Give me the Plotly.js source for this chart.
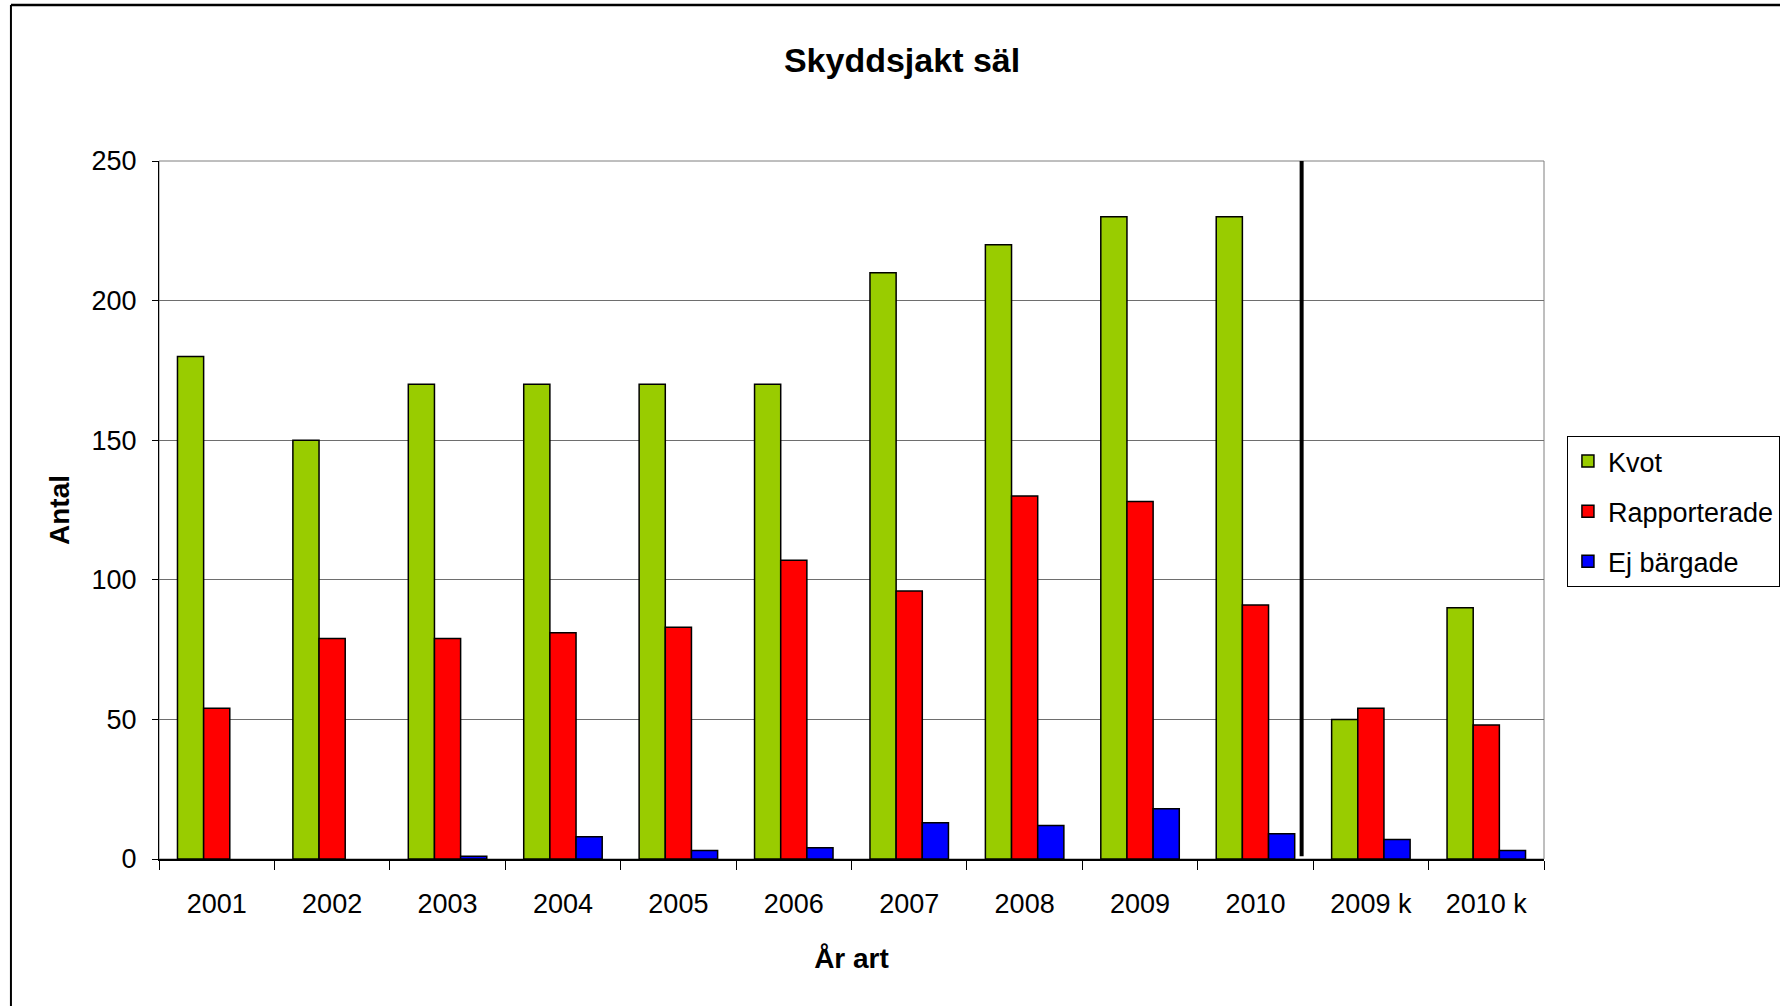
<!DOCTYPE html>
<html>
<head>
<meta charset="utf-8">
<script src="https://cdn.plot.ly/plotly-3.0.1.min.js"></script>
<style>
html, body { margin: 0; padding: 0; background: #fff; }
#chart { width: 1780px; height: 1006px; }
</style>
</head>
<body>
<div id="chart"></div>
<script>
const categories = ['2001', '2002', '2003', '2004', '2005', '2006', '2007', '2008', '2009', '2010', '2009 k', '2010 k'];
const kvot = [180, 150, 170, 170, 170, 170, 210, 220, 230, 230, 50, 90];
const rapporterade = [54, 79, 79, 81, 83, 107, 96, 130, 128, 91, 54, 48];
const ejBargade = [null, null, 1, 8, 3, 4, 13, 12, 18, 9, 7, 3];
const yTicks = [0, 50, 100, 150, 200, 250];

const FONT = '"Liberation Sans", Arial, sans-serif';
const outline = { color: '#000000', width: 1.5 };

const traces = [
  { type: 'bar', name: 'Kvot', x: categories, y: kvot, legendgroup: 'a',
    marker: { color: '#99CC00', line: outline } },
  { type: 'bar', name: 'Rapporterade', x: categories, y: rapporterade, legendgroup: 'b',
    marker: { color: '#FF0000', line: outline } },
  { type: 'bar', name: 'Ej bärgade', x: categories, y: ejBargade, legendgroup: 'c',
    marker: { color: '#0000FF', line: outline } }
];

// divider just before the first "k" category
const splitIdx = categories.indexOf('2009 k') - 0.6;

const layout = {
  width: 1780, height: 1006,
  paper_bgcolor: '#ffffff', plot_bgcolor: '#ffffff',
  margin: { l: 159, r: 236, t: 161, b: 147, pad: 0 },
  font: { family: FONT, color: '#000000', size: 27 },
  showlegend: true,
  barmode: 'group', bargap: 0.32, bargroupgap: 0,
  title: { text: '<b>Skyddsjakt säl</b>', font: { family: FONT, size: 34, color: '#000' },
           xref: 'paper', x: 0.5365, xanchor: 'center', yref: 'container', y: 0.94, yanchor: 'middle' },
  xaxis: {
    type: 'category', categoryorder: 'array', categoryarray: categories,
    tickson: 'boundaries', ticks: 'outside', ticklen: 9, tickcolor: '#000', tickwidth: 1,
    showline: true, linecolor: '#000', linewidth: 1.5,
    showgrid: false, zeroline: false, automargin: false,
    tickfont: { family: FONT, size: 27, color: '#000' },
    ticklabelstandoff: 20,
    title: { text: '<b>År art</b>', font: { family: FONT, size: 28, color: '#000' }, standoff: 30 }
  },
  yaxis: {
    range: [0, 250], tickvals: yTicks, ticktext: yTicks.map(String),
    ticks: 'outside', ticklen: 6, tickcolor: '#000', tickwidth: 1,
    showline: true, linecolor: '#000', linewidth: 1,
    showgrid: true, gridcolor: '#6e6e6e', gridwidth: 1,
    zeroline: false, automargin: false,
    tickfont: { family: FONT, size: 27, color: '#000' },
    ticklabelstandoff: 10,
    title: { text: '<b>Antal</b>', font: { family: FONT, size: 28, color: '#000' }, standoff: 13 }
  },
  legend: {
    xref: 'container', yref: 'container',
    x: 0.8803, xanchor: 'left', y: 0.5666, yanchor: 'top',
    bgcolor: '#ffffff', bordercolor: '#000000', borderwidth: 1,
    font: { family: FONT, size: 27, color: '#000' },
    traceorder: 'grouped', tracegroupgap: 12
  },
  shapes: [
    // plot area frame (grey)
    { type: 'rect', xref: 'paper', yref: 'paper', x0: 0, x1: 1, y0: 0, y1: 1,
      line: { color: '#7f7f7f', width: 1 }, layer: 'below' },
    // divider line
    { type: 'line', xref: 'x', yref: 'y', x0: splitIdx, x1: splitIdx, y0: 1, y1: 250,
      line: { color: '#000000', width: 4 } },
    // outer chart frame (top and left)
    { type: 'line', xref: 'paper', yref: 'paper', x0: -0.1069, x1: 1.2, y0: 1.2235, y1: 1.2235,
      line: { color: '#000000', width: 2.5 } },
    { type: 'line', xref: 'paper', yref: 'paper', x0: -0.1069, x1: -0.1069, y0: 1.2235, y1: -0.25,
      line: { color: '#000000', width: 2 } }
  ]
};

Plotly.newPlot('chart', traces, layout, { staticPlot: true, displayModeBar: false });
</script>
</body>
</html>
